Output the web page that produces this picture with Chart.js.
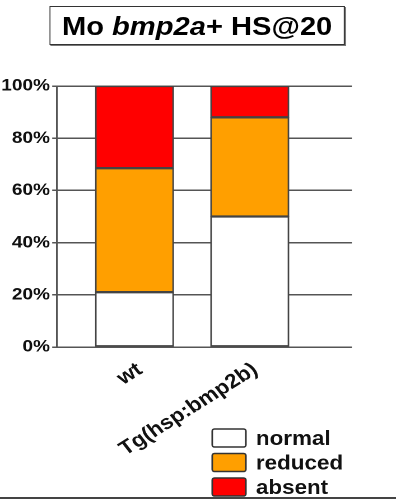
<!DOCTYPE html>
<html>
<head>
<meta charset="utf-8">
<script src="https://cdn.jsdelivr.net/npm/chart.js@4.4.1/dist/chart.umd.min.js"></script>
<style>
  html, body { margin: 0; padding: 0; background: #fff; overflow: hidden; }
  #wrap { position: absolute; left: 0; top: 0; width: 354px; height: 501px; transform: scaleX(1.12); transform-origin: 0 0; }
  #title { position: absolute; left: 44px; top: 6px; width: 262px; height: 37px; border: 1.5px solid #333; box-shadow: 1px 1px 0 #777;
           font: bold 26px 'Liberation Sans', Arial, sans-serif; text-align: center; line-height: 38px; color: #000; background: #fff; }
  #rule { position: absolute; left: 0; top: 497px; width: 396px; height: 2px; background: #444; }
</style>
</head>
<body>
<div id="wrap">
  <canvas id="c" width="354" height="501"></canvas>
  <div id="title">Mo <i>bmp2a</i>+ HS@20</div>
</div>
<div id="rule"></div>
<script>
const categories = ['wt', 'Tg(hsp:bmp2b)'];
const seriesNames = ['normal', 'reduced', 'absent'];
const normal = [21, 50];
const reduced = [47.5, 38];
const absent = [31.5, 12];
const yTicks = [0, 20, 40, 60, 80, 100];

const colors = ['#ffffff', '#ff9f00', '#ff0000'];
const FONT = "'Liberation Sans', Arial, sans-serif";

// legend is drawn by hand, bottom right under the labels
const legendBox = {
  id: 'legendBox',
  afterDraw(chart) {
    const ctx = chart.ctx;
    ctx.save();
    ctx.font = 'bold 20px ' + FONT;
    chart.data.datasets.forEach((ds, i) => {
      const y = 429 + i * 24.5;
      ctx.fillStyle = ds.backgroundColor;
      ctx.strokeStyle = '#333';
      ctx.lineWidth = 1.5;
      ctx.beginPath();
      ctx.roundRect(189.5, y, 30, 18, 2);
      ctx.fill();
      ctx.stroke();
      ctx.fillStyle = '#111';
      ctx.fillText(ds.label, 228.5, y + 16);
    });
    ctx.restore();
  }
};

const series = [normal, reduced, absent];
const datasets = series.map((vals, k) => ({
  label: seriesNames[k],
  data: vals.map((v, i) => ({ x: i, y: v })),
  backgroundColor: colors[k],
  borderColor: '#444',
  borderWidth: 1.5,
  borderSkipped: false,
  barThickness: 70,
  stack: 'all',
}));

new Chart(document.getElementById('c'), {
  type: 'bar',
  data: { datasets },
  plugins: [legendBox],
  options: {
    responsive: false,
    animation: false,
    devicePixelRatio: 2,
    layout: { padding: { top: 86, right: 39.7, left: 0, bottom: 0 } },
    plugins: { legend: { display: false }, title: { display: false }, tooltip: { enabled: false } },
    scales: {
      x: {
        type: 'linear',
        min: -0.675,
        max: 1.887,
        offset: false,
        grid: { display: false, drawTicks: false, offset: false },
        border: { display: false },
        afterBuildTicks: (s) => { s.ticks = categories.map((_, i) => ({ value: i })); },
        afterFit: (s) => { s.height = 154; },
        ticks: {
          autoSkip: false,
          minRotation: 35,
          maxRotation: 35,
          padding: 11,
          labelOffset: 5,
          color: '#111',
          font: { family: FONT, size: 20, weight: 'bold' },
          callback: (v) => categories[v],
        },
      },
      y: {
        stacked: true,
        min: 0,
        max: 100,
        afterBuildTicks: (s) => { s.ticks = yTicks.map((v) => ({ value: v })); },
        afterFit: (s) => { s.width = 50.6; },
        grid: { color: '#555', lineWidth: 1.5, tickLength: 4 },
        border: { color: '#555', width: 1.5 },
        ticks: {
          padding: 2,
          color: '#111',
          font: { family: FONT, size: 17, weight: 'bold' },
          callback: (v) => v + '%',
        },
      },
    },
  },
});
</script>
</body>
</html>
